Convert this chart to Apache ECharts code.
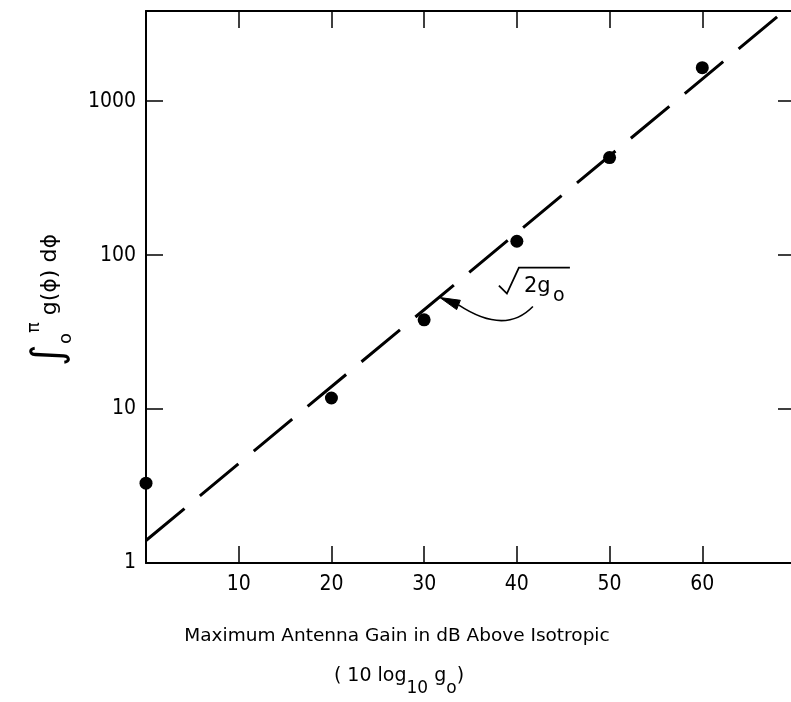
<!DOCTYPE html>
<html>
<head>
<meta charset="utf-8">
<title>Integral of g(phi) vs maximum antenna gain</title>
<script src="https://cdn.jsdelivr.net/npm/echarts@6/dist/echarts.min.js"></script>
<style>
  html, body { margin: 0; padding: 0; background: #fff; }
  #chart { width: 791px; height: 702px; }
</style>
</head>
<body>
<div id="chart"></div>
<script>
// measured points: max gain (dB) vs integral of g(phi)
const gainDb = [0, 20, 30, 40, 50, 60];
const integralVals = [3.3, 11.8, 38, 123, 430, 1650];

// sqrt(2 g0) reference line, end points
const refX = [0, 70];
const refY = [1.4, 4400];

const xTickLabels = [10, 20, 30, 40, 50, 60];
const yTickLabels = [1, 10, 100, 1000];

const TICK_FONT = "'DejaVu Sans Condensed', 'DejaVu Sans', sans-serif";
const TEXT_FONT = "'DejaVu Sans', sans-serif";

const myChart = echarts.init(document.getElementById('chart'));

const axisLine = { show: true, onZero: false, lineStyle: { color: '#000', width: 2 } };
const axisTick = { show: true, inside: true, length: 17, lineStyle: { color: '#000', width: 1.5 } };

const xBase = {
    type: 'value',
    min: 0,
    max: 70,
    interval: 10,
    axisLine: axisLine,
    axisTick: axisTick,
    splitLine: { show: false },
};
const yBase = {
    type: 'log',
    logBase: 10,
    min: 1,
    max: 3850,
    axisLine: axisLine,
    axisTick: axisTick,
    splitLine: { show: false },
    minorTick: { show: false },
};

const option = {
    animation: false,
    backgroundColor: '#fff',
    grid: { left: 146, right: -4, top: 11, bottom: 139, outerBoundsMode: 'none' },
    xAxis: [
        Object.assign({}, xBase, {
            position: 'bottom',
            axisLabel: {
                margin: 11,
                color: '#000',
                fontSize: 21,
                fontFamily: TICK_FONT,
                formatter: (v) => xTickLabels.includes(v) ? String(v) : '',
            },
        }),
        Object.assign({}, xBase, { position: 'top', axisLabel: { show: false } }),
    ],
    yAxis: [
        Object.assign({}, yBase, {
            position: 'left',
            axisLabel: {
                margin: 10,
                color: '#000',
                fontSize: 21,
                fontFamily: TICK_FONT,
                showMaxLabel: false,
                formatter: (v) => {
                    const r = Math.round(v);
                    return yTickLabels.includes(r) ? String(r) : '';
                },
            },
        }),
        Object.assign({}, yBase, { position: 'right', axisLabel: { show: false } }),
    ],
    series: [
        {
            type: 'line',
            data: refX.map((x, i) => [x, refY[i]]),
            showSymbol: false,
            symbol: 'none',
            clip: true,
            lineStyle: { color: '#000', width: 3, type: [50, 20] },
            z: 2,
        },
        {
            type: 'scatter',
            data: gainDb.map((x, i) => [x, integralVals[i]]),
            symbol: 'circle',
            symbolSize: 13,
            itemStyle: { color: '#000', opacity: 1 },
            z: 3,
        },
    ],
};

myChart.setOption(option);

// annotation anchored on the reference line where the arrow points
const tip = myChart.convertToPixel({ xAxisIndex: 0, yAxisIndex: 0 }, [31.7, 53]);
const tx = tip[0], ty = tip[1];

// arrow head geometry
const dir = [-0.93, -0.37];
const base = [tx - dir[0] * 20, ty - dir[1] * 20];
const nrm = [0.37, -0.93];

myChart.setOption({
    graphic: [
        // sqrt(2 g0) label
        {
            type: 'polyline',
            shape: { points: [[tx + 59, ty - 12], [tx + 67, ty - 4], [tx + 79, ty - 30], [tx + 130, ty - 30]] },
            style: { stroke: '#000', lineWidth: 1.8, fill: null },
        },
        {
            type: 'text',
            x: tx + 84,
            y: ty - 11,
            style: { text: '2g', fontSize: 21, fontFamily: TEXT_FONT, fill: '#000', verticalAlign: 'middle' },
        },
        {
            type: 'text',
            x: tx + 113,
            y: ty - 1,
            style: { text: 'o', fontSize: 19, fontFamily: TEXT_FONT, fill: '#000', verticalAlign: 'middle' },
        },
        // curved arrow
        {
            type: 'bezierCurve',
            shape: { x1: tx + 93, y1: ty + 9, cpx1: tx + 65, cpy1: ty + 38, x2: base[0], y2: base[1] },
            style: { stroke: '#000', lineWidth: 1.6, fill: null },
        },
        {
            type: 'polygon',
            shape: { points: [[tx, ty], [base[0] + nrm[0] * 5, base[1] + nrm[1] * 5], [base[0] - nrm[0] * 5, base[1] - nrm[1] * 5]] },
            style: { fill: '#000', stroke: '#000', lineWidth: 1 },
        },
        // y axis title
        {
            type: 'text',
            x: 50,
            y: 300,
            rotation: Math.PI / 2,
            style: {
                text: '{i|∫}{o|o}{p|π}{t| g(ϕ) dϕ}',
                align: 'center',
                verticalAlign: 'middle',
                fill: '#000',
                rich: {
                    i: { fontSize: 42, fontFamily: TEXT_FONT, lineHeight: 50 },
                    o: { fontSize: 18, fontFamily: TEXT_FONT, lineHeight: 18, verticalAlign: 'bottom' },
                    p: { fontSize: 18, fontFamily: TEXT_FONT, lineHeight: 18, verticalAlign: 'top' },
                    t: { fontSize: 22, fontFamily: TEXT_FONT, lineHeight: 26 },
                },
            },
        },
        // x axis title, two lines
        {
            type: 'text',
            x: 397,
            y: 636,
            style: {
                text: 'Maximum Antenna Gain in dB Above Isotropic',
                align: 'center',
                verticalAlign: 'middle',
                fill: '#000',
                fontSize: 18.5,
                fontFamily: TEXT_FONT,
            },
        },
        {
            type: 'text',
            x: 399,
            y: 682,
            style: {
                text: '{a|( 10 log}{s|10}{a| g}{s|o}{a|)}',
                align: 'center',
                verticalAlign: 'middle',
                fill: '#000',
                rich: {
                    a: { fontSize: 19, fontFamily: TEXT_FONT, lineHeight: 30, verticalAlign: 'top' },
                    s: { fontSize: 17, fontFamily: TEXT_FONT, lineHeight: 17, verticalAlign: 'bottom' },
                },
            },
        },
    ],
});
</script>
</body>
</html>
